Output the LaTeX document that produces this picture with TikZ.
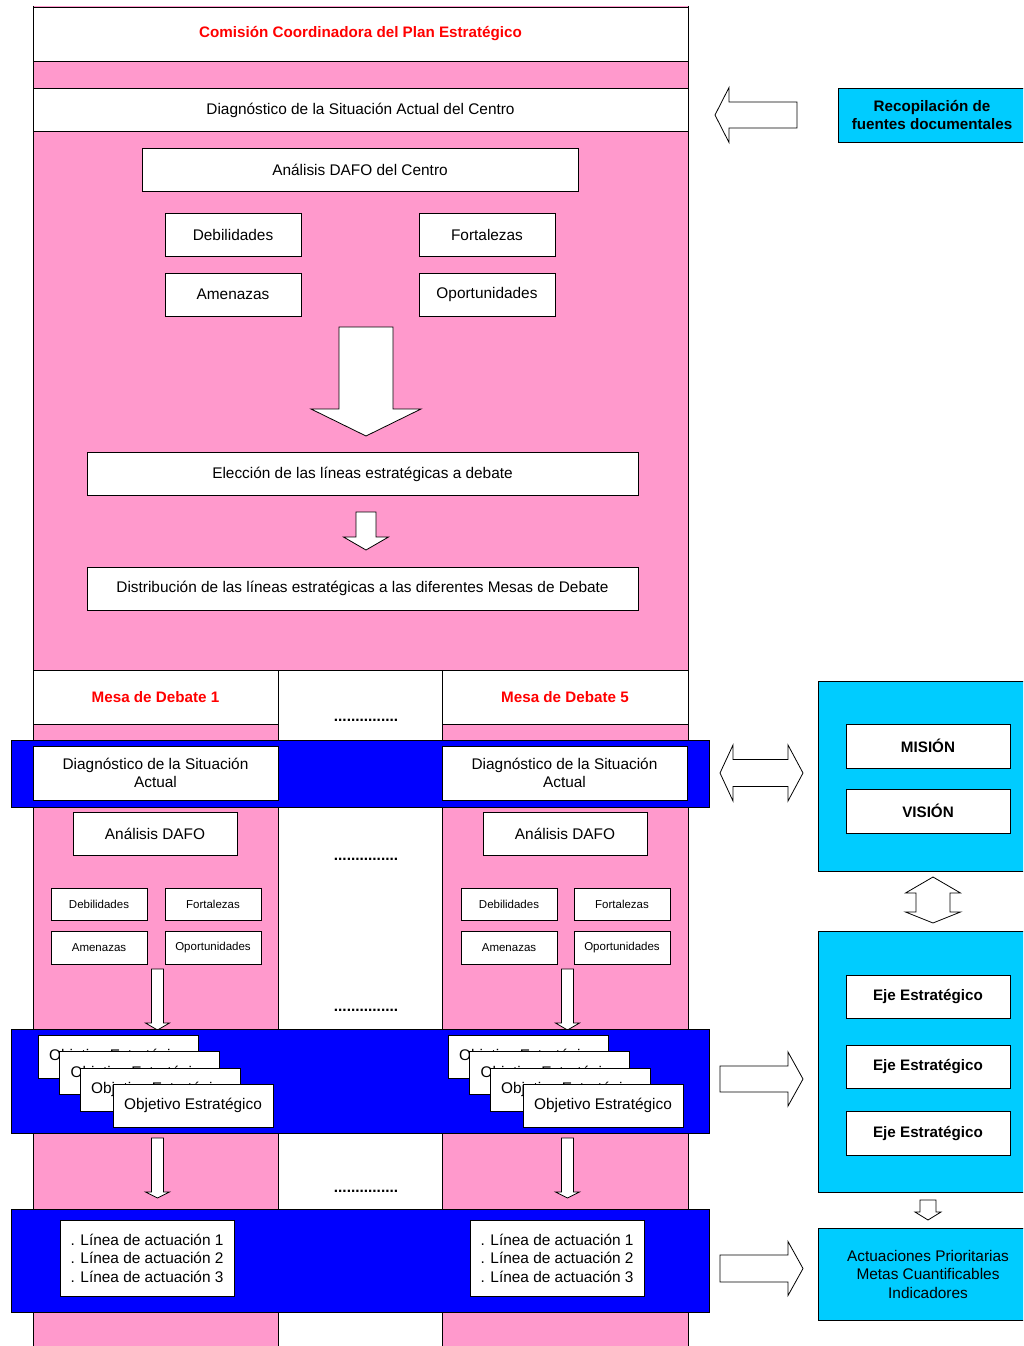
\documentclass[tikz,border=0pt]{standalone}
\usepackage{fontspec}
\setmainfont{Liberation Sans}
\definecolor{pinkc}{HTML}{FF99CC}
\definecolor{bluec}{HTML}{0000FF}
\definecolor{cyanc}{HTML}{00CCFF}
\definecolor{redc}{HTML}{FF0000}
\newcommand{\ArrDown}[6]{% cx, ytop, shaft half, yhead, head half, ytip
 \draw[blk] ({#1-#3},#2) -- ({#1+#3},#2) -- ({#1+#3},#4) -- ({#1+#5},#4) -- (#1,#6) -- ({#1-#5},#4) -- ({#1-#3},#4) -- cycle;}
\newcommand{\ArrSide}[6]{% cy, xtail, shaft half, xhead, head half, xtip
 \draw[blk] (#2,{#1-#3}) -- (#4,{#1-#3}) -- (#4,{#1-#5}) -- (#6,#1) -- (#4,{#1+#5}) -- (#4,{#1+#3}) -- (#2,{#1+#3}) -- cycle;}
\newcommand{\ArrDblH}[7]{% cy, tipL, headL, headR, tipR, shaft half, head half
 \draw[blk] (#2,#1) -- (#3,{#1-#7}) -- (#3,{#1-#6}) -- (#4,{#1-#6}) -- (#4,{#1-#7}) -- (#5,#1) -- (#4,{#1+#7}) -- (#4,{#1+#6}) -- (#3,{#1+#6}) -- (#3,{#1+#7}) -- cycle;}
\newcommand{\ArrDblV}[7]{% cx, tipT, headT, headB, tipB, shaft half, head half
 \draw[blk] (#1,#2) -- ({#1+#7},#3) -- ({#1+#6},#3) -- ({#1+#6},#4) -- ({#1+#7},#4) -- (#1,#5) -- ({#1-#7},#4) -- ({#1-#6},#4) -- ({#1-#6},#3) -- ({#1-#7},#3) -- cycle;}
\begin{document}
\begin{tikzpicture}[x=1pt,y=-1pt,
  box/.style={draw=black, fill=white, line width=0.9pt, inner sep=0pt, align=center, font=\fontsize{15.4}{18.5}\selectfont},
  sbox/.style={box, font=\fontsize{11.5}{14}\selectfont},
  bbox/.style={box, font=\fontsize{15.2}{18.5}\selectfont\bfseries},
  rbox/.style={box, text=redc, font=\fontsize{15.2}{18.5}\selectfont\bfseries},
  band/.style={draw=black, fill=bluec, line width=0.9pt, inner sep=0pt},
  cbox/.style={draw=black, fill=cyanc, line width=0.9pt, inner sep=0pt, align=center, font=\fontsize{15.4}{18.5}\selectfont},
  blk/.style={draw=black, fill=white, line width=0.8pt, line join=miter},
  dotsn/.style={inner sep=0pt, font=\fontsize{15.4}{18.5}\selectfont\bfseries}]
\useasboundingbox (0,0) rectangle (1023,1346);
\clip (0,0) rectangle (1023,1346);
\fill[white] (0,0) rectangle (1023,1346);
% main pink column
\fill[pinkc] (33,6) rectangle (688,1350);
\draw[line width=0.9pt] (33,6) -- (33,1350) (688,6) -- (688,1350);
\draw[line width=0.9pt] (33,670) -- (688,670);
% middle white column
\draw[line width=0.9pt, fill=white] (278,1350) -- (278,670) -- (442,670) -- (442,1350);
% top boxes
\node[rbox, minimum width=655, minimum height=54] (com) at (360.5,34) {Comisión Coordinadora del Plan Estratégico};
\node[box, minimum width=655, minimum height=43] (diag) at (360.5,110) {Diagnóstico de la Situación Actual del Centro};
\node[box, minimum width=436, minimum height=43] (dafo) at (360,169.5) {Análisis DAFO del Centro};
\node[box, minimum width=136, minimum height=43] (deb) at (233,234.5) {Debilidades};
\node[box, minimum width=136, minimum height=43] (fort) at (487,234.5) {Fortalezas};
\node[box, minimum width=136, minimum height=43] (amen) at (233,294.5) {Amenazas};
\node[box, minimum width=136, minimum height=43] (opor) at (487,294.5) {Oportunidades};
\ArrDown{366}{327}{27}{409}{55}{436}
\node[box, minimum width=551, minimum height=43] (elec) at (362.5,474) {Elección de las líneas estratégicas a debate};
\ArrDown{366}{512}{10}{537}{22.5}{550}
\node[box, minimum width=551, minimum height=43] (dist) at (362.5,588.5) {Distribución de las líneas estratégicas a las diferentes Mesas de Debate};
% mesas
\node[rbox, minimum width=245, minimum height=54] (mesa1) at (155.5,697) {Mesa de Debate 1};
\node[rbox, minimum width=246, minimum height=54] (mesa5) at (565,697) {Mesa de Debate 5};
\node[dotsn] (dots1) at (366,720.5) {...............};
\node[dotsn] (dots2) at (366,859.5) {...............};
\node[dotsn] (dots3) at (366,1010.5) {...............};
\node[dotsn] (dots4) at (366,1191.5) {...............};
% band 1
\node[band, minimum width=698, minimum height=67] (band1) at (360,773.5) {};
\node[box, minimum width=245, minimum height=54] (diagL) at (155.5,773) {Diagnóstico de la Situación\\Actual};
\node[box, minimum width=245, minimum height=54] (diagR) at (564.5,773) {Diagnóstico de la Situación\\Actual};
\node[box, minimum width=164, minimum height=43] (dafoL) at (155,833.5) {Análisis DAFO};
\node[box, minimum width=164, minimum height=43] (dafoR) at (565,833.5) {Análisis DAFO};
\node[sbox, minimum width=96, minimum height=32] (debL) at (99,904) {Debilidades};
\node[sbox, minimum width=96, minimum height=32] (fortL) at (213,904) {Fortalezas};
\node[sbox, minimum width=96, minimum height=33] (amenL) at (99,947.5) {Amenazas};
\node[sbox, minimum width=96, minimum height=33] (oporL) at (213,947.5) {Oportunidades};
\node[sbox, minimum width=96, minimum height=32] (debR) at (509,904) {Debilidades};
\node[sbox, minimum width=96, minimum height=32] (fortR) at (622,904) {Fortalezas};
\node[sbox, minimum width=96, minimum height=33] (amenR) at (509,947.5) {Amenazas};
\node[sbox, minimum width=96, minimum height=33] (oporR) at (622,947.5) {Oportunidades};
\ArrDown{157.5}{969}{6}{1023}{12}{1030}
\ArrDown{567.5}{969}{6}{1023}{12}{1030}
% band 2
\node[band, minimum width=698, minimum height=104] (band2) at (360,1081) {};
\node[box, minimum width=160, minimum height=43] (objL1) at (118,1056.5) {Objetivo Estratégico};
\node[box, minimum width=160, minimum height=43] (objL2) at (139.5,1073) {Objetivo Estratégico};
\node[box, minimum width=160, minimum height=43] (objL3) at (160,1089.5) {Objetivo Estratégico};
\node[box, minimum width=160, minimum height=43] (objL4) at (193,1105.5) {Objetivo Estratégico};
\node[box, minimum width=160, minimum height=43] (objR1) at (528,1056.5) {Objetivo Estratégico};
\node[box, minimum width=160, minimum height=43] (objR2) at (549.5,1073) {Objetivo Estratégico};
\node[box, minimum width=160, minimum height=43] (objR3) at (570,1089.5) {Objetivo Estratégico};
\node[box, minimum width=160, minimum height=43] (objR4) at (603,1105.5) {Objetivo Estratégico};
\ArrDown{157.5}{1138}{6}{1192}{12}{1198}
\ArrDown{567.5}{1138}{6}{1192}{12}{1198}
% band 3
\node[band, minimum width=698, minimum height=103] (band3) at (360,1260.5) {};
\node[box, align=left, minimum width=174, minimum height=76] (linL) at (147,1258) {. Línea de actuación 1\\. Línea de actuación 2\\. Línea de actuación 3};
\node[box, align=left, minimum width=174, minimum height=76] (linR) at (557,1258) {. Línea de actuación 1\\. Línea de actuación 2\\. Línea de actuación 3};
% right side
\ArrSide{115}{797}{13}{729}{27.5}{715}
\node[cbox, font=\fontsize{15.2}{18.5}\selectfont\bfseries, minimum width=188, minimum height=54] (recop) at (932,115) {Recopilación de\\fuentes documentales};
\ArrDblH{773}{720}{733}{788}{803}{13.5}{28}
\node[cbox, minimum width=220, minimum height=190] (cyan1) at (928,776) {};
\node[bbox, minimum width=164, minimum height=44] (mision) at (928,746) {MISIÓN};
\node[bbox, minimum width=164, minimum height=44] (vision) at (928,811) {VISIÓN};
\ArrDblV{933}{877}{893}{912}{923}{17}{27.5}
\node[cbox, minimum width=220, minimum height=261] (cyan2) at (928,1061.5) {};
\node[bbox, minimum width=164, minimum height=43] (eje1) at (928,997) {Eje Estratégico};
\node[bbox, minimum width=164, minimum height=43] (eje2) at (928,1067) {Eje Estratégico};
\node[bbox, minimum width=164, minimum height=44] (eje3) at (928,1133.5) {Eje Estratégico};
\ArrSide{1079}{720}{13}{788}{27}{803}
\ArrDown{928}{1200}{8}{1212}{13}{1220}
\node[cbox, minimum width=220, minimum height=92] (cyan3) at (928,1274) {Actuaciones Prioritarias\\Metas Cuantificables\\Indicadores};
\ArrSide{1268.5}{720}{13.5}{788}{27}{803}
\end{tikzpicture}
\end{document}
